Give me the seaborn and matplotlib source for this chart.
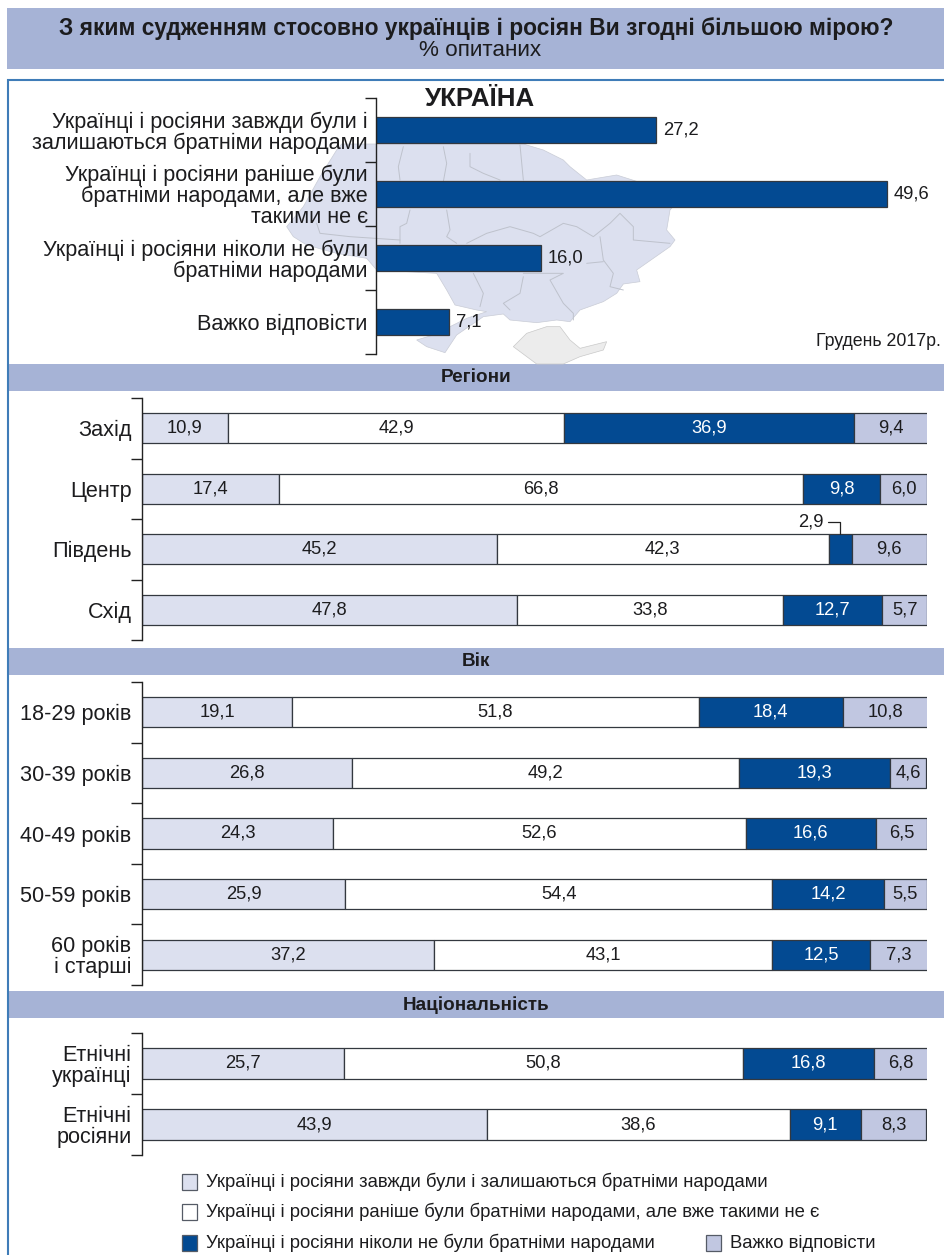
"""Stacked bar survey figure: attitude to Ukrainians and Russians, December 2017."""

import matplotlib
matplotlib.use("Agg")
import matplotlib.pyplot as plt
from matplotlib.patches import Polygon, Rectangle
import numpy as np
import pandas as pd
import seaborn as sns

sns.set_theme(style="white")
plt.rcParams["font.family"] = ["Liberation Sans", "DejaVu Sans"]

W, H = 944, 1255

TITLE = "З яким судженням стосовно українців і росіян Ви згодні більшою мірою?"
SUBTITLE = "% опитаних"

answers = [
    "Українці і росіяни завжди були і\nзалишаються братніми народами",
    "Українці і росіяни раніше були\nбратніми народами, але вже\nтакими не є",
    "Українці і росіяни ніколи не були\nбратніми народами",
    "Важко відповісти",
]
overall = [27.2, 49.6, 16.0, 7.1]

legend_labels = [
    "Українці і росіяни завжди були і залишаються братніми народами",
    "Українці і росіяни раніше були братніми народами, але вже такими не є",
    "Українці і росіяни ніколи не були братніми народами",
    "Важко відповісти",
]

regions = ["Захід", "Центр", "Південь", "Схід"]
reg_always = [10.9, 17.4, 45.2, 47.8]
reg_before = [42.9, 66.8, 42.3, 33.8]
reg_never = [36.9, 9.8, 2.9, 12.7]
reg_hard = [9.4, 6.0, 9.6, 5.7]

ages = ["18-29 років", "30-39 років", "40-49 років", "50-59 років", "60 років\nі старші"]
age_always = [19.1, 26.8, 24.3, 25.9, 37.2]
age_before = [51.8, 49.2, 52.6, 54.4, 43.1]
age_never = [18.4, 19.3, 16.6, 14.2, 12.5]
age_hard = [10.8, 4.6, 6.5, 5.5, 7.3]

nations = ["Етнічні\nукраїнці", "Етнічні\nросіяни"]
nat_always = [25.7, 43.9]
nat_before = [50.8, 38.6]
nat_never = [16.8, 9.1]
nat_hard = [6.8, 8.3]

C_LIGHT = "#DCE0EF"
C_WHITE = "#FFFFFF"
C_DARK = "#034A92"
C_MID = "#C1C7E1"
C_BAND = "#A6B3D6"
C_FRAME = "#3F7CB8"
C_EDGE = "#33383F"
C_TEXT = "#1C1C1E"
SEG_COLORS = [C_LIGHT, C_WHITE, C_DARK, C_MID]

# map outline, traced in crop pixels (crop origin 270,130, 3x)
MAP_OUTLINE = [
    (215, 42), (200, 60), (175, 100), (150, 140), (125, 185), (100, 230), (50, 290), (70, 320),
    (110, 345), (200, 370), (290, 385), (320, 420), (500, 430), (530, 480), (555, 525),
    (620, 540), (650, 545), (590, 565), (540, 590), (490, 615), (440, 630), (470, 650),
    (525, 668), (560, 615), (640, 560), (700, 552), (720, 570), (800, 578), (860, 570),
    (900, 575), (930, 540), (1000, 515), (1040, 490), (1060, 462), (1110, 455), (1100, 420),
    (1150, 385), (1200, 350), (1215, 330), (1190, 300), (1200, 240), (1235, 200), (1150, 170),
    (1040, 135), (950, 150), (900, 110), (880, 90), (820, 60), (760, 42),
]
MAP_BORDERS = [
    [(400, 50), (385, 110), (390, 150)],
    [(520, 50), (530, 100), (520, 155)],
    [(600, 70), (600, 110), (640, 130), (690, 150)],
    [(750, 45), (760, 150)],
    [(420, 240), (410, 280), (390, 290), (390, 340)],
    [(530, 240), (540, 300), (530, 320), (560, 340)],
    [(590, 340), (650, 310), (720, 290), (790, 310), (810, 320), (880, 280), (920, 290),
     (970, 320), (1020, 280), (1050, 250), (1090, 290), (1090, 330), (1200, 340)],
    [(990, 320), (1000, 390), (1030, 430), (1020, 470), (1060, 480)],
    [(1000, 395), (950, 400)],
    [(760, 430), (880, 430), (840, 450), (880, 520), (910, 550), (910, 570)],
    [(610, 430), (640, 490), (630, 530)],
    [(760, 440), (750, 490), (700, 520), (720, 540)],
    [(140, 280), (150, 310), (240, 320), (390, 330)],
]
CRIMEA = [
    (730, 650), (770, 610), (830, 590), (870, 590), (900, 630), (930, 655), (1010, 635),
    (1000, 660), (930, 680), (880, 702), (800, 702),
]


def crop_to_page(points):
    return [(x / 3 + 270, y / 3 + 130) for x, y in points]


def pct(v):
    return f"{v:.1f}".replace(".", ",")


def make_axes(fig, left, right, top, bottom):
    ax = fig.add_axes([left / W, 1 - bottom / H, (right - left) / W, (bottom - top) / H])
    ax.patch.set_alpha(0)
    return ax


def style_bracket(ax, cats, label_pad=7.5):
    """Left spine with ticks between the categories, labels on minor ticks."""
    n = len(cats)
    ax.set_ylim(n - 0.5, -0.5)
    ax.set_yticks(np.arange(n + 1) - 0.5)
    ax.set_yticklabels([])
    ax.set_yticks(np.arange(n), minor=True)
    ax.set_yticklabels(cats, minor=True, fontsize=15.6, color=C_TEXT, linespacing=1.0,
                       multialignment="right")
    ax.tick_params(axis="y", which="major", left=True, length=8, width=1, color="#222222")
    ax.tick_params(axis="y", which="minor", left=True, length=0, pad=label_pad)
    ax.set_xticks([])
    ax.set_xlabel("")
    ax.set_ylabel("")
    for side in ["top", "right", "bottom"]:
        ax.spines[side].set_visible(False)
    ax.spines["left"].set_color("#222222")
    ax.spines["left"].set_linewidth(1)


def plot_stacked(ax, cats, series, skip_labels=()):
    df = pd.DataFrame({"group": cats})
    lefts = np.zeros(len(cats))
    for i, values in enumerate(series):
        df[f"s{i}"] = values
        sns.barplot(data=df, x=f"s{i}", y="group", order=cats, orient="h", left=lefts,
                    color=SEG_COLORS[i], saturation=1, width=0.5, edgecolor=C_EDGE,
                    linewidth=0.9, ax=ax)
        labels = ["" if (i, j) in skip_labels else pct(v) for j, v in enumerate(values)]
        ax.bar_label(ax.containers[-1], labels=labels, label_type="center", fontsize=13.2,
                     color="white" if i == 2 else C_TEXT)
        lefts = lefts + np.array(values)
    ax.set_xlim(0, 100)
    style_bracket(ax, cats)


fig = plt.figure(figsize=(W / 100, H / 100), dpi=100, facecolor="white")

# page furniture in pixel coordinates
bg = fig.add_axes([0, 0, 1, 1])
bg.set_xlim(0, W)
bg.set_ylim(H, 0)
bg.axis("off")

bg.add_patch(Rectangle((7, 8), W - 7, 61, color=C_BAND, lw=0))
bg.text(476, 28, TITLE, ha="center", va="center", fontsize=16.4, fontweight="bold", color=C_TEXT)
bg.text(480, 51, SUBTITLE, ha="center", va="center", fontsize=16.2, color=C_TEXT)

bg.plot([8, 8, W], [H, 79.5, 79.5], color=C_FRAME, lw=1.5, solid_joinstyle="miter")

for top, bottom, name in [(364, 391, "Регіони"), (648, 675, "Вік"), (991, 1018, "Національність")]:
    bg.add_patch(Rectangle((9, top), W - 9, bottom - top, color=C_BAND, lw=0))
    bg.text(476, (top + bottom) / 2 + 0.5, name, ha="center", va="center", fontsize=13.6,
            fontweight="bold", color=C_TEXT)

# map behind the national chart
bg.add_patch(Polygon(crop_to_page(MAP_OUTLINE), closed=True, fc=C_LIGHT, ec="#C9CCD6", lw=0.5))
bg.add_patch(Polygon(crop_to_page(CRIMEA), closed=True, fc="#ECECEC", ec="#C9C9C9", lw=0.5))
for path in MAP_BORDERS:
    xs, ys = zip(*crop_to_page(path))
    bg.plot(xs, ys, color="#BEC2CC", lw=0.7)

bg.text(480, 99, "УКРАЇНА", ha="center", va="center", fontsize=18.6, fontweight="bold", color=C_TEXT)
bg.text(941, 341, "Грудень 2017р.", ha="right", va="center", fontsize=12.8, color=C_TEXT)

# overall bars
ax0 = make_axes(fig, 376, W, 98, 354)
sns.barplot(x=overall, y=answers, order=answers, orient="h", color=C_DARK, saturation=1,
            width=0.42, edgecolor=C_EDGE, linewidth=0.9, ax=ax0)
ax0.bar_label(ax0.containers[-1], labels=[pct(v) for v in overall], padding=5, fontsize=13.2,
              color=C_TEXT)
ax0.set_xlim(0, (W - 376) / 10.3)
style_bracket(ax0, answers, label_pad=6)

# breakdowns
ax1 = make_axes(fig, 142, 927, 398, 640)
plot_stacked(ax1, regions, [reg_always, reg_before, reg_never, reg_hard], skip_labels={(2, 2)})
south = regions.index("Південь")
ax1.annotate(pct(reg_never[south]),
             xy=(reg_always[south] + reg_before[south] + reg_never[south] / 2, south - 0.25),
             xytext=(-12, 9), textcoords="offset points", ha="right", va="center",
             fontsize=13.2, color=C_TEXT,
             arrowprops=dict(arrowstyle="-", color="#222222", lw=0.9, shrinkA=1, shrinkB=0,
                             connectionstyle="angle,angleA=0,angleB=90,rad=0"))

ax2 = make_axes(fig, 142, 927, 682, 985)
plot_stacked(ax2, ages, [age_always, age_before, age_never, age_hard])

ax3 = make_axes(fig, 142, 927, 1033, 1155)
plot_stacked(ax3, nations, [nat_always, nat_before, nat_never, nat_hard])

# legend rows
legend_pos = [(182, 1182), (182, 1212), (182, 1243), (706, 1243)]
for label, color, (x, y) in zip(legend_labels, SEG_COLORS, legend_pos):
    bg.add_patch(Rectangle((x, y - 8), 15, 16, fc=color, ec="#555B66", lw=0.9))
    bg.text(x + 24, y, label, ha="left", va="center", fontsize=13.3, color=C_TEXT)

fig.savefig("out.png", dpi=100)
